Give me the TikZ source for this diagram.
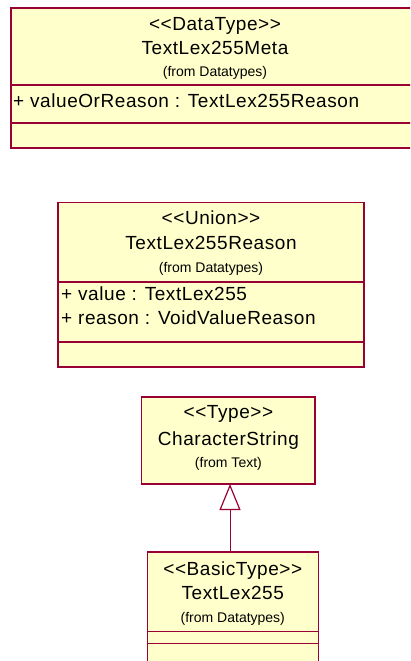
\documentclass[tikz,border=0pt]{standalone}
\usepackage{fontspec}
\setmainfont{Liberation Sans}
\newfontfamily\umlfont[LetterSpace=3]{Liberation Sans}
\usetikzlibrary{arrows.meta}
\definecolor{umlfill}{RGB}{255,255,204}
\definecolor{umlline}{RGB}{153,0,51}
\begin{document}
\begin{tikzpicture}[x=1pt,y=-1pt,
  classbox/.style={draw=umlline, fill=umlfill, line width=1.3pt, rectangle, inner sep=0pt, outer sep=0pt, anchor=north west},
  divider/.style={draw=umlline, line width=1.3pt},
  stereo/.style={anchor=base, inner sep=0pt, font=\umlfont\fontsize{19}{23}\selectfont},
  pkg/.style={anchor=base, inner sep=0pt, font=\fontsize{14}{17}\selectfont},
  attr/.style={anchor=base west, inner sep=0pt, font=\umlfont\fontsize{19}{23}\selectfont},
  inherit/.style={draw=umlline, line width=1pt, -{Triangle[open, length=26pt, width=21pt, line width=1.2pt]}}
]
\useasboundingbox (0,0) rectangle (410,661);
\clip (0,0) rectangle (410,661);

% TextLex255Meta
\node[classbox, minimum width=408pt, minimum height=140pt] (meta) at (11,8) {};
\draw[divider] (meta.west |- 0,85) -- (meta.east |- 0,85);
\draw[divider] (meta.west |- 0,123) -- (meta.east |- 0,123);
\node[stereo] (metaS) at (215,30.7) {<{}<DataType>{}>};
\node[stereo] (metaN) at (215,55) {TextLex255Meta};
\node[pkg] (metaP) at (215,77) {(from Datatypes)};
\node[attr] (metaA) at (13,107) {+ valueOrReason : TextLex255Reason};

% TextLex255Reason
\node[classbox, minimum width=306pt, minimum height=164.3pt] (reason) at (58,202.7) {};
\draw[divider] (reason.west |- 0,282) -- (reason.east |- 0,282);
\draw[divider] (reason.west |- 0,342) -- (reason.east |- 0,342);
\node[stereo] (reasonS) at (211,224.5) {<{}<Union>{}>};
\node[stereo] (reasonN) at (211,249.5) {TextLex255Reason};
\node[pkg] (reasonP) at (211,272.5) {(from Datatypes)};
\node[attr] (reasonA1) at (61,300.7) {+ value : TextLex255};
\node[attr] (reasonA2) at (61,324) {+ reason : VoidValueReason};

% CharacterString
\node[classbox, minimum width=173.3pt, minimum height=87pt] (cs) at (141.7,397) {};
\node[stereo] (csS) at (228.4,418) {<{}<Type>{}>};
\node[stereo] (csN) at (228.4,445) {CharacterString};
\node[pkg] (csP) at (228.4,467) {(from Text)};

% TextLex255
\node[classbox, minimum width=171pt, minimum height=130pt] (tl) at (147.3,552) {};
\draw[divider] (tl.west |- 0,631.7) -- (tl.east |- 0,631.7);
\draw[divider] (tl.west |- 0,643.3) -- (tl.east |- 0,643.3);
\node[stereo] (tlS) at (232.8,575) {<{}<BasicType>{}>};
\node[stereo] (tlN) at (232.8,599.3) {TextLex255};
\node[pkg] (tlP) at (232.8,622.7) {(from Datatypes)};

% generalization
\coordinate (g) at (230,0);
\draw[inherit] (tl.north -| g) -- (cs.south -| g);
\end{tikzpicture}
\end{document}
